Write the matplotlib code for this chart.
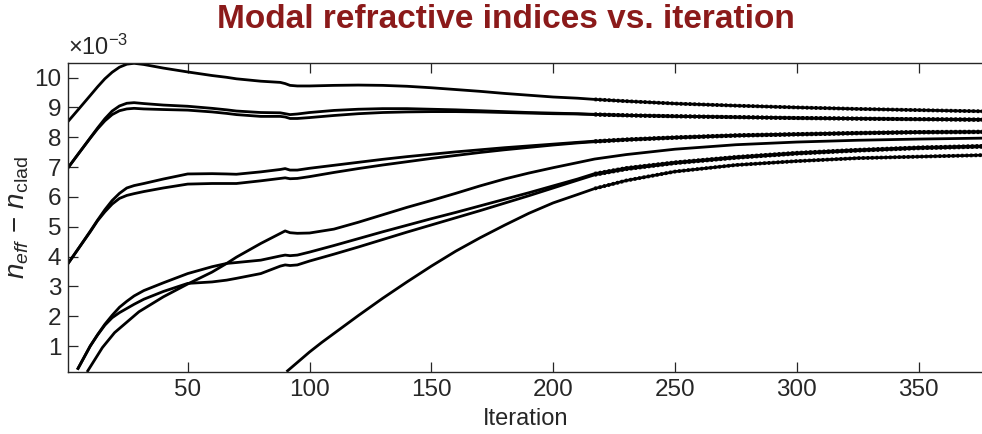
import numpy as np
import matplotlib
matplotlib.use("Agg")
import matplotlib.pyplot as plt

plt.rcParams['font.family'] = ['Liberation Sans', 'DejaVu Sans']
plt.rcParams['mathtext.fontset'] = 'custom'
plt.rcParams['mathtext.rm'] = 'Liberation Sans'
plt.rcParams['mathtext.it'] = 'Liberation Sans:italic'

nan = np.nan

# iterations shared by the modes that exist from the start
it_main = [1, 5, 10, 13, 16, 19, 22, 25, 28, 32, 40, 50, 60, 66, 70, 80, 88, 90, 92, 95,
           100, 110, 120, 130, 140, 150, 160, 170, 180, 190, 200, 210, 217,
           230, 250, 275, 300, 325, 350, 376]

# n_eff - n_clad (x 1e-3)
mode_a = [8.54, 8.92, 9.40, 9.69, 9.96, 10.18, 10.35, 10.45, 10.48, 10.44, 10.32, 10.19, 10.07,
          10.01, 9.96, 9.88, 9.84, 9.80, 9.74, 9.72, 9.72, 9.74, 9.75, 9.74, 9.71, 9.66, 9.60,
          9.54, 9.47, 9.41, 9.35, 9.31, 9.27, 9.21, 9.13, 9.06, 9.00, 8.95, 8.91, 8.87]
mode_b1 = [6.99, 7.43, 7.98, 8.31, 8.62, 8.88, 9.05, 9.14, 9.16, 9.13, 9.08, 9.04, 8.97, 8.92,
           8.88, 8.83, 8.82, 8.79, 8.76, 8.78, 8.83, 8.90, 8.94, 8.96, 8.96, 8.94, 8.92, 8.89,
           8.86, 8.83, 8.81, 8.79, 8.77, 8.74, 8.71, 8.68, 8.65, 8.63, 8.61, 8.60]
mode_b2 = [6.99, 7.43, 7.97, 8.28, 8.55, 8.76, 8.89, 8.95, 8.97, 8.95, 8.93, 8.91, 8.85, 8.80,
           8.76, 8.70, 8.70, 8.68, 8.63, 8.63, 8.66, 8.73, 8.79, 8.83, 8.85, 8.86, 8.86, 8.85,
           8.83, 8.81, 8.79, 8.78, 8.76, 8.73, 8.70, 8.67, 8.64, 8.62, 8.60, 8.58]
mode_c1 = [3.78, 4.25, 4.85, 5.22, 5.57, 5.88, 6.12, 6.30, 6.38, 6.45, 6.60, 6.77, 6.78, 6.77,
           6.76, 6.84, 6.92, 6.95, 6.90, 6.90, 6.96, 7.06, 7.16, 7.26, 7.35, 7.43, 7.51, 7.58,
           7.65, 7.71, 7.77, 7.83, 7.87, 7.93, 8.00, 8.07, 8.11, 8.15, 8.18, 8.19]
mode_c2 = [3.78, 4.25, 4.83, 5.20, 5.50, 5.76, 5.95, 6.05, 6.11, 6.18, 6.30, 6.43, 6.45, 6.45,
           6.45, 6.54, 6.62, 6.64, 6.61, 6.62, 6.68, 6.82, 6.95, 7.07, 7.18, 7.29, 7.39, 7.49,
           7.58, 7.66, 7.74, 7.81, 7.85, 7.91, 7.98, 8.05, 8.09, 8.13, 8.16, 8.17]
mode_d1 = [nan, 0.25, 1.00, 1.38, 1.73, 2.03, 2.30, 2.50, 2.68, 2.86, 3.12, 3.43, 3.66, 3.77,
           3.80, 3.88, 4.02, 4.05, 4.03, 4.05, 4.15, 4.37, 4.60, 4.83, 5.05, 5.27, 5.48, 5.70,
           5.92, 6.14, 6.37, 6.60, 6.78, 6.97, 7.16, 7.34, 7.48, 7.58, 7.66, 7.71]
mode_d2 = [nan, 0.25, 1.00, 1.37, 1.70, 1.95, 2.12, 2.26, 2.40, 2.57, 2.83, 3.10, 3.15, 3.21,
           3.27, 3.43, 3.68, 3.72, 3.70, 3.72, 3.85, 4.08, 4.32, 4.57, 4.82, 5.06, 5.30, 5.54,
           5.79, 6.04, 6.30, 6.56, 6.74, 6.93, 7.13, 7.31, 7.45, 7.55, 7.63, 7.68]

# mode appearing at iteration 9
it_d3 = [9, 15, 20, 25, 30, 40, 50, 60, 66, 70, 80, 85, 90, 92, 95, 100, 110, 120, 130,
         140, 150, 160, 170, 180, 190, 200, 210, 217, 230, 250, 275, 300, 325, 350, 376]
mode_d3 = [0.17, 0.95, 1.45, 1.80, 2.15, 2.65, 3.08, 3.48, 3.77, 3.98, 4.44, 4.65, 4.86, 4.80,
           4.78, 4.79, 4.92, 5.15, 5.40, 5.65, 5.88, 6.12, 6.37, 6.60, 6.80, 6.98, 7.15, 7.27,
           7.42, 7.60, 7.75, 7.84, 7.90, 7.94, 7.97]

# mode appearing at iteration 91
it_e = [91, 95, 100, 105, 110, 120, 130, 140, 150, 160, 170, 180, 190, 200, 210, 217,
        230, 250, 275, 300, 325, 350, 376]
mode_e = [0.17, 0.45, 0.80, 1.12, 1.42, 2.02, 2.60, 3.15, 3.68, 4.18, 4.63, 5.05, 5.45,
          5.80, 6.08, 6.28, 6.55, 6.85, 7.07, 7.20, 7.30, 7.35, 7.40]

curves = [
    (it_main, mode_a, True), (it_main, mode_b1, True), (it_main, mode_b2, True),
    (it_main, mode_c1, True), (it_main, mode_c2, True),
    (it_main, mode_d1, True), (it_main, mode_d2, True),
    (it_d3, mode_d3, False), (it_e, mode_e, True),
]
osc_start = 217

fig = plt.figure(figsize=(9.82, 4.34), dpi=100)
ax = fig.add_axes([68.3 / 982, 1 - 371.7 / 434, 1 - 68.3 / 982, (371.7 - 63.3) / 434])

for it, vals, wobbly in curves:
    it = np.asarray(it, float)
    vals = np.asarray(vals, float)
    ax.plot(it, vals, color='black', lw=2.0, solid_joinstyle='round')
    if wobbly:
        # jittery convergence after the switch: beaded overlay on the tail
        tail = it >= osc_start
        ax.plot(it[tail], vals[tail], color='black', lw=2.7,
                dashes=(0.6, 0.6), dash_capstyle='butt')

ax.set_xlim(1, 376)
ax.set_ylim(0.14, 10.48)
ax.set_xticks([50, 100, 150, 200, 250, 300, 350])
ax.set_yticks(range(1, 11))

gray = '#262626'
ax.spines['right'].set_visible(False)
for s in ['left', 'top', 'bottom']:
    ax.spines[s].set_color(gray)
    ax.spines[s].set_linewidth(1.0)
ax.tick_params(direction='in', length=7, width=0.9, color=gray, labelcolor=gray,
               labelsize=17.5, top=True, right=False, pad=5)

ax.set_xlabel('Iteration', fontsize=17, color=gray, labelpad=5)
ax.set_ylabel(r'$n_{eff}\,-\,n_{\mathrm{clad}}$', fontsize=20, color=gray, labelpad=2)
ax.text(0.0, 1.01, r'$\times\mathregular{10^{-3}}$', transform=ax.transAxes,
        fontsize=17, color=gray, ha='left', va='bottom')

fig.text(505.5 / 982, 1 - 20 / 434, 'Modal refractive indices vs. iteration',
         fontsize=24, fontweight='bold', color='#8B1A1A', ha='center', va='center')

fig.savefig('out.png', dpi=100)
